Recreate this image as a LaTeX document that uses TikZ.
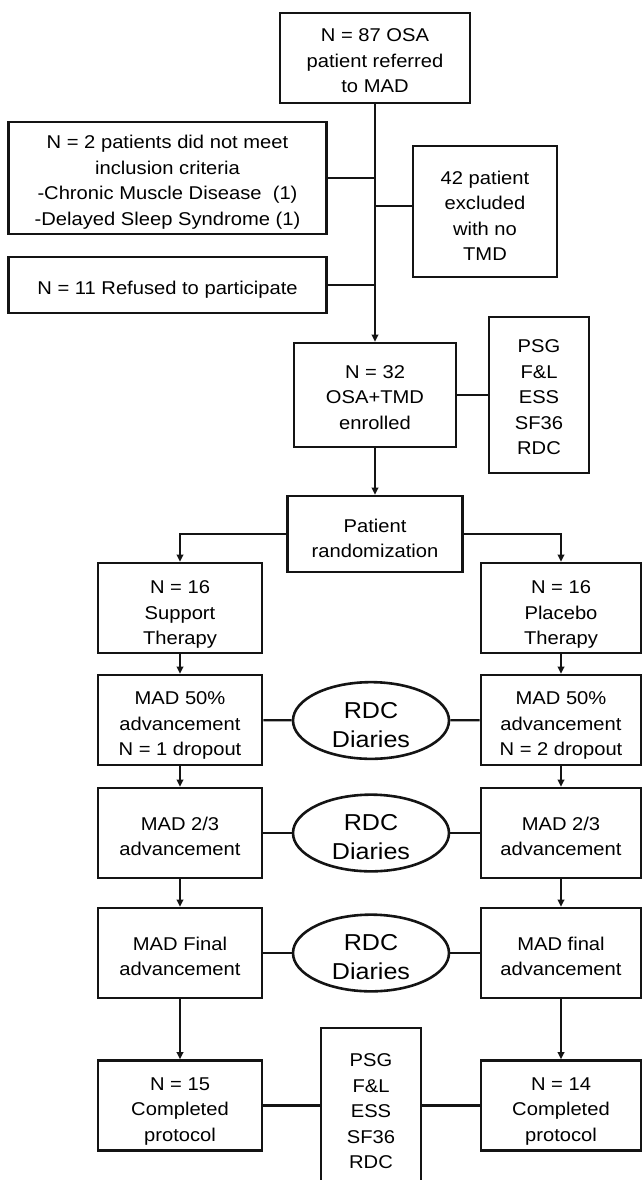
\documentclass[tikz,border=0pt]{standalone}
\usepackage{fontspec}
\setmainfont{Liberation Sans}[FakeStretch=1.09]
\usetikzlibrary{arrows.meta,shapes.geometric}
\newcommand\mystrut[1]{\rule{0pt}{#1}}
\begin{document}
\begin{tikzpicture}[x=1pt,y=-1pt,
  box/.style={draw=black!92,line width=2.6pt,rectangle,align=center,inner sep=0pt,
    font=\fontsize{18.5}{25.5}\selectfont},
  oval/.style={draw=black!92,line width=2.6pt,ellipse,align=center,inner sep=0pt,
    minimum width=156pt,minimum height=73pt,font=\fontsize{23}{29}\selectfont},
  conn/.style={draw=black!92,line width=2.3pt},
  arr/.style={conn,-{Triangle[length=7pt,width=6.5pt]}}]
\useasboundingbox (0,0) rectangle (643,1180);
% top part
\node[box,minimum width=190pt,minimum height=90pt] (top) at (375,58) {\mystrut{19pt}N = 87 OSA\\patient referred\\to MAD};
\node[box,minimum width=318pt,minimum height=112pt] (incl) at (167.5,178) {\mystrut{22pt}N = 2 patients did not meet\\inclusion criteria\\-Chronic Muscle Disease\ \ (1)\\-Delayed Sleep Syndrome (1)};
\node[box,minimum width=144pt,minimum height=131pt] (excl) at (485,211.5) {\mystrut{22pt}42 patient\\excluded\\with no\\TMD};
\node[box,minimum width=318pt,minimum height=56pt] (refused) at (167.5,285) {\mystrut{22pt}N = 11 Refused to participate};
\node[box,minimum width=162pt,minimum height=104pt] (osa) at (375,395) {\mystrut{18pt}N = 32\\OSA+TMD\\enrolled};
\node[box,minimum width=100pt,minimum height=156pt] (psgA) at (539,395) {\mystrut{18pt}PSG\\F\&L\\ESS\\SF36\\RDC};
\node[box,minimum width=175pt,minimum height=76pt] (rand) at (375,534) {\mystrut{22pt}Patient\\randomization};
% arms
\node[box,minimum width=164pt,minimum height=90pt] (sup) at (180,608) {\mystrut{26pt}N = 16\\Support\\Therapy};
\node[box,minimum width=160pt,minimum height=90pt] (pla) at (561,608) {\mystrut{26pt}N = 16\\Placebo\\Therapy};
\node[box,minimum width=164pt,minimum height=90pt] (mL1) at (180,720) {\mystrut{24pt}MAD 50\%\\advancement\\N = 1 dropout};
\node[box,minimum width=160pt,minimum height=90pt] (mR1) at (561,720) {\mystrut{24pt}MAD 50\%\\advancement\\N = 2 dropout};
\node[oval] (e1) at (371,720.5) {\mystrut{25pt}RDC\\Diaries};
\node[box,minimum width=164pt,minimum height=90pt] (mL2) at (180,833) {\mystrut{20pt}MAD 2/3\\advancement};
\node[box,minimum width=160pt,minimum height=90pt] (mR2) at (561,833) {\mystrut{20pt}MAD 2/3\\advancement};
\node[oval] (e2) at (371,833) {\mystrut{25pt}RDC\\Diaries};
\node[box,minimum width=164pt,minimum height=90pt] (mL3) at (180,953) {\mystrut{20pt}MAD Final\\advancement};
\node[box,minimum width=160pt,minimum height=90pt] (mR3) at (561,953) {\mystrut{20pt}MAD final\\advancement};
\node[oval] (e3) at (371,953) {\mystrut{25pt}RDC\\Diaries};
\node[box,minimum width=164pt,minimum height=90pt] (cL) at (180,1105.5) {\mystrut{24pt}N = 15\\Completed\\protocol};
\node[box,minimum width=160pt,minimum height=90pt] (cR) at (561,1105.5) {\mystrut{24pt}N = 14\\Completed\\protocol};
\node[box,minimum width=100pt,minimum height=162pt] (psgB) at (371,1109) {\mystrut{18pt}PSG\\F\&L\\ESS\\SF36\\RDC};
% connectors
\draw[arr] (top.south) -- (osa.north);
\draw[conn] (incl.east) -- (incl.east -| top.south);
\draw[conn] ([yshift=5.5pt]excl.west) -- ([yshift=5.5pt]excl.west -| top.south);
\draw[conn] (refused.east) -- (refused.east -| top.south);
\draw[conn] (osa.east) -- (psgA.west);
\draw[arr] (osa.south) -- (rand.north);
\draw[arr] (rand.west) -| (sup.north);
\draw[arr] (rand.east) -| (pla.north);
\draw[arr] (sup) -- (mL1);
\draw[arr] (mL1) -- (mL2);
\draw[arr] (mL2) -- (mL3);
\draw[arr] (mL3) -- (cL);
\draw[arr] (pla) -- (mR1);
\draw[arr] (mR1) -- (mR2);
\draw[arr] (mR2) -- (mR3);
\draw[arr] (mR3) -- (cR);
\draw[conn] (mL1) -- (e1) -- (mR1);
\draw[conn] (mL2) -- (e2) -- (mR2);
\draw[conn] (mL3) -- (e3) -- (mR3);
\draw[conn] (cL.east) -- (cL.east -| psgB.west);
\draw[conn] (cR.west) -- (cR.west -| psgB.east);
\end{tikzpicture}
\end{document}
